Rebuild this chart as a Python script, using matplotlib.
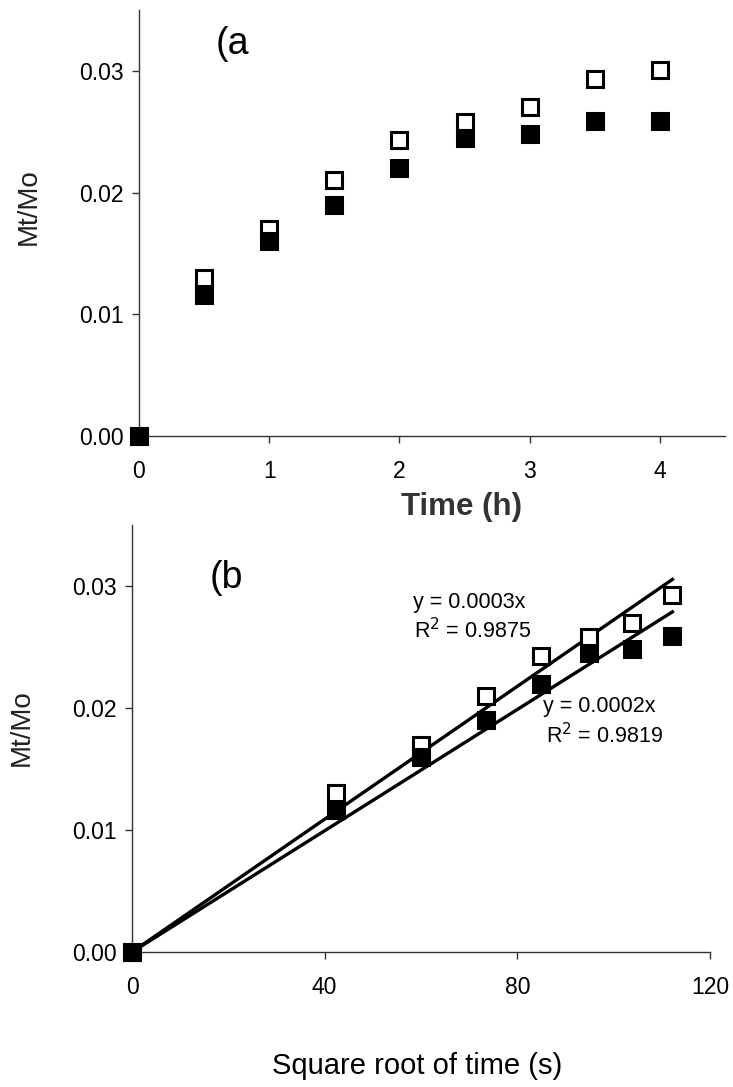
import numpy as np
import matplotlib.pyplot as plt

plt.rcParams["font.family"] = ["Liberation Sans", "DejaVu Sans"]

# panel (a): release vs time
time_h = [0, 0.5, 1.0, 1.5, 2.0, 2.5, 3.0, 3.5, 4.0]
open_a = [0.0, 0.0130, 0.0170, 0.0210, 0.0243, 0.0258, 0.0270, 0.0293, 0.0301]
filled_a = [0.0, 0.0116, 0.0160, 0.0190, 0.0220, 0.0245, 0.0248, 0.0259, 0.0259]

# panel (b): release vs square root of time (s), first 8 points
sqrt_t = [0, 42.4, 60.0, 73.5, 84.9, 94.9, 103.9, 112.2]
open_b = open_a[:8]
filled_b = filled_a[:8]

ms = 11.5
mew = 2.2

fig = plt.figure(figsize=(7.33, 10.87), dpi=100)
ax1 = fig.add_axes([0.1896, 0.5989, 0.7994, 0.3919])
ax2 = fig.add_axes([0.1801, 0.1242, 0.7885, 0.3928])
ax2.patch.set_alpha(0)

for ax in (ax1, ax2):
    for s in ("top", "right"):
        ax.spines[s].set_visible(False)
    for s in ("left", "bottom"):
        ax.spines[s].set_linewidth(1.0)
        ax.spines[s].set_color("#333333")
    ax.tick_params(direction="out", length=5, width=1.0, colors="#333333",
                   labelsize=16.5, labelcolor="black")
    ax.tick_params(axis="y", pad=6)
    ax.tick_params(axis="x", pad=12)
    ax.set_ylim(0, 0.035)
    ax.set_yticks([0.0, 0.01, 0.02, 0.03])
    ax.set_yticklabels(["0.00", "0.01", "0.02", "0.03"])

# (a)
ax1.plot(time_h, open_a, "s", ms=ms, mfc="white", mec="black", mew=mew,
         clip_on=False, zorder=3)
ax1.plot(time_h, filled_a, "s", ms=ms, mfc="black", mec="black", mew=mew,
         clip_on=False, zorder=4)
ax1.set_xlim(0, 4.5)
ax1.set_xticks([0, 1, 2, 3, 4])
ax1.text(0.13, 0.92, "(a", transform=ax1.transAxes, fontsize=27,
         ha="left", va="center")
fig.text(29 / 733, 1 - 207 / 1087, "Mt/Mo", rotation=90, fontsize=20,
         color="#222222", ha="center", va="center")
fig.text(462 / 733, 1 - 507 / 1087, "Time (h)", fontsize=22.5,
         fontweight="bold", color="#333333", ha="center", va="center")

# (b) with linear fits through the origin
x_b = np.array(sqrt_t)
slope_open = np.sum(x_b * np.array(open_b)) / np.sum(x_b ** 2)
slope_filled = np.sum(x_b * np.array(filled_b)) / np.sum(x_b ** 2)
xf = np.array([0, x_b.max()])
ax2.plot(xf, slope_open * xf, color="black", lw=2.4, zorder=2)
ax2.plot(xf, slope_filled * xf, color="black", lw=2.4, zorder=2)
ax2.plot(sqrt_t, open_b, "s", ms=ms, mfc="white", mec="black", mew=mew,
         clip_on=False, zorder=3)
ax2.plot(sqrt_t, filled_b, "s", ms=ms, mfc="black", mec="black", mew=mew,
         clip_on=False, zorder=4)
ax2.set_xlim(0, 120)
ax2.set_xticks([0, 40, 80, 120])
ax2.text(0.135, 0.876, "(b", transform=ax2.transAxes, fontsize=27,
         ha="left", va="center")
fig.text(22 / 733, 1 - 728 / 1087, "Mt/Mo", rotation=90, fontsize=20,
         color="#222222", ha="center", va="center")
fig.text(417 / 733, 1 - 1066 / 1087, "Square root of time (s)", fontsize=21,
         color="black", ha="center", va="center")

ax2.text(58.3, 0.02868, "y = 0.0003x", fontsize=15.5, ha="left", va="center")
ax2.text(58.5, 0.02638, "R$^2$ = 0.9875", fontsize=15.5, ha="left", va="center")
ax2.text(85.3, 0.02013, "y = 0.0002x", fontsize=15.5, ha="left", va="center")
ax2.text(85.9, 0.01775, "R$^2$ = 0.9819", fontsize=15.5, ha="left", va="center")

fig.savefig("out.png", dpi=100)
